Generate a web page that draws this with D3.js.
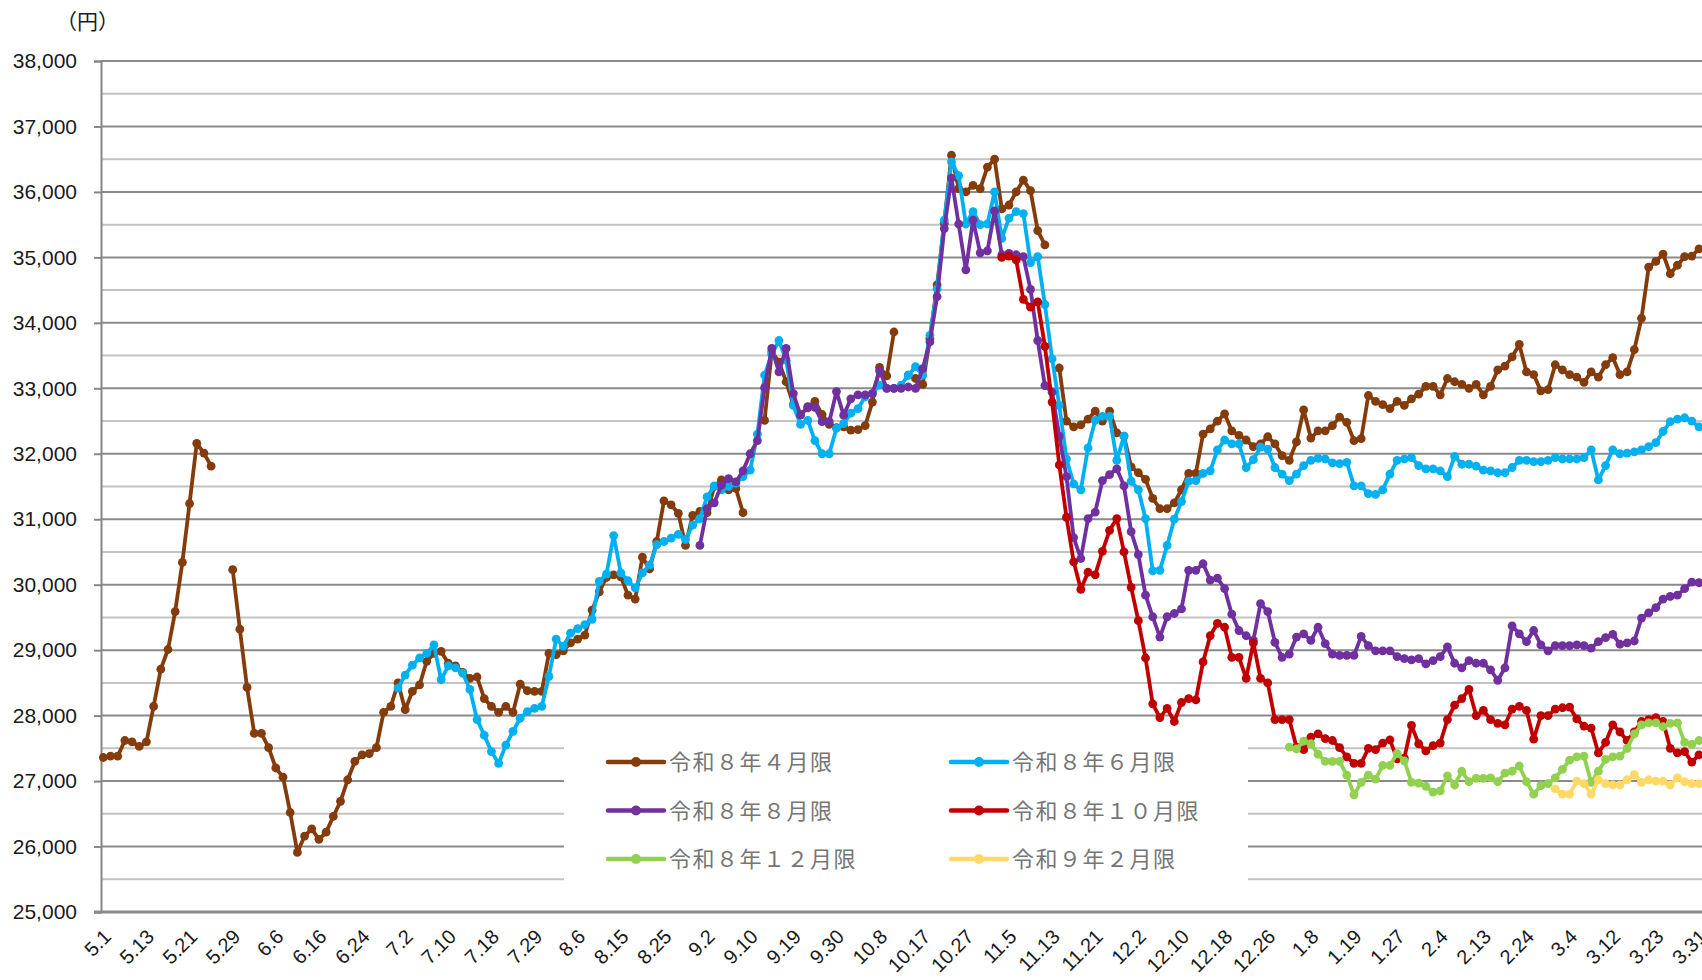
<!DOCTYPE html>
<html lang="ja">
<head>
<meta charset="utf-8">
<title>限月別 価格推移</title>
<script src="https://cdn.jsdelivr.net/npm/d3@7/dist/d3.min.js"></script>
<style>
  body { margin: 0; background: #ffffff; }
  svg text { font-family: "Liberation Sans", Arial, sans-serif; }
  .legend text { font-family: "Noto Sans CJK JP", sans-serif; }
</style>
</head>
<body>
<script>
// x categories: trading days, labels every 6th day
const xLabels = ["5.1","5.13","5.21","5.29","6.6","6.16","6.24","7.2","7.10","7.18","7.29","8.6",
  "8.15","8.25","9.2","9.10","9.19","9.30","10.8","10.17","10.27","11.5","11.13","11.21","12.2",
  "12.10","12.18","12.26","1.8","1.19","1.27","2.4","2.13","2.24","3.4","3.12","3.23","3.31"];
const labelStep = 6;
const dayCount = 223;

const yMajorTicks = [25000,26000,27000,28000,29000,30000,31000,32000,33000,34000,35000,36000,37000,38000];
const yMinorTicks = [25500,26500,27500,28500,29500,30500,31500,32500,33500,34500,35500,36500,37500];

// 令和８年４月限 (index 0 .. 222, null = no trade)
const apr8 = [27360,27380,27380,27620,27600,27530,27600,28140,28710,29010,29590,30340,31240,32160,32010,31810,
  null,null,
  30230,29320,28430,27730,27730,27510,27200,27060,26520,25910,26160,26270,26110,26220,26460,26690,27020,27300,27400,27420,27510,28050,28140,
  28500,28090,28370,28470,28830,28950,28980,28800,28760,28660,28570,28590,28260,28140,28050,28140,28050,28480,28380,28370,
  28370,28950,28930,28990,29110,29170,29230,29610,29890,30110,30150,30120,29840,29780,30420,30240,30660,31280,31220,31090,
  30600,31060,31120,31100,31500,31600,31450,31470,31100,
  null,null,
  32510,33560,33400,33100,32750,32600,32700,32800,32600,32450,32400,32410,32360,32370,32430,32790,33320,33190,33860,
  null,
  33200,33150,33060,33760,34580,35520,36560,36050,36000,36100,36050,36380,36500,35740,35800,36000,36180,36020,35410,35190,
  null,
  33310,32500,32410,32440,32530,32650,32500,32650,32320,32270,31800,31710,31610,31320,31160,31160,31250,31450,31700,31700,
  32300,32380,32500,32610,32350,32280,32210,32110,32150,32260,32150,31970,31900,32180,32670,32240,32350,32350,32430,32560,
  32480,32200,32230,32890,32800,32750,32690,32800,32740,32840,32910,33030,33030,32900,33150,33100,33060,33000,33060,32900,
  33030,33280,33340,33480,33670,33250,33210,32960,32980,33360,33280,33210,33170,33090,33250,33170,33360,33470,33210,33250,
  33590,34070,34850,34940,35050,34750,34880,35010,35020,35130];

// 令和８年６月限 (from index 41)
const jun8Start = 41;
const jun8 = [28420,28620,28770,28880,28950,29080,28550,28760,28730,28650,28400,27940,27700,27450,27270,27550,27760,27960,28060,28110,
  28140,28600,29170,29060,29260,29330,29390,29470,30050,30160,30750,30180,30060,29950,30180,30300,30610,30660,30710,30770,
  30690,30910,31010,31340,31510,31450,31500,31550,31650,31750,
  32300,33200,33520,33730,33430,32740,32450,32510,32200,32000,32000,32390,32460,32620,32690,32870,32920,33050,33000,33000,
  33050,33200,33330,33200,33810,34520,35570,36460,36250,35510,35700,35500,35510,36000,35290,35600,35700,35670,34920,35010,
  34280,33450,32740,31920,31540,31450,32090,32510,32570,32570,31900,32270,31580,31450,31010,30210,30220,30600,31000,31270,
  31580,31590,31700,31740,32060,32210,32150,32150,31790,31910,32100,32070,31790,31690,31590,31690,31820,31900,31930,31920,
  31860,31850,31870,31510,31510,31390,31380,31450,31690,31900,31920,31940,31820,31770,31770,31740,
  31650,31960,31840,31840,31810,31750,31740,31710,31710,31790,31900,31900,31880,31880,31900,31940,31920,31920,31920,31940,
  32060,31600,31820,32060,32000,32010,32030,32060,32110,32170,32340,32490,32530,32550,32500,32410];

// 令和８年８月限 (from index 83)
const aug8Start = 83;
const aug8 = [30600,31160,31250,31520,31620,31570,31740,32000,32200,33010,33610,33250,33610,32920,32590,32720,32710,32490,32490,32950,
  32590,32840,32900,32900,32920,33270,33000,33000,33000,33020,33000,33300,33710,34400,35440,36210,35510,34810,35570,35070,
  35100,35710,35040,35060,35040,35010,34510,33730,33040,32940,32270,31650,30720,30400,31010,31110,31590,31680,31770,31510,
  30810,30460,29840,29510,29200,29510,29560,29630,
  30220,30220,30320,30070,30100,29940,29550,29300,29220,29150,29710,29590,29120,28890,28940,29200,29250,29150,29350,29100,
  28940,28920,28920,28920,29210,29070,28990,28990,28990,28900,28870,28850,28870,28790,28840,28900,
  29050,28800,28730,28840,28800,28800,28700,28540,28730,29370,29250,29130,29300,29080,28990,29070,29070,29070,29080,29070,
  29030,29130,29190,29240,29090,29110,29140,29490,29570,29650,29780,29820,29840,29940,30040,30030];

// 令和８年１０月限 (from index 125)
const oct8Start = 125;
const oct8 = [35000,35020,34960,34360,34240,34320,33640,32790,31830,31030,30350,29930,30190,30150,30510,30830,31010,30500,29960,29450,
  28880,28180,27970,28110,27910,28200,
  28260,28240,28820,29220,29410,29350,28890,28890,28570,29110,28570,28500,27940,27940,27940,27520,27480,27670,27720,27650,
  27620,27510,27370,27270,27270,27500,27480,27580,27630,27340,27350,27850,27570,27460,27540,27580,
  27940,28160,28260,28400,28000,28080,27940,27880,27860,28100,28140,28080,27640,28000,28000,28100,28120,28130,27950,27840,
  27810,27430,27590,27860,27750,27620,27750,27910,27940,27970,27910,27500,27430,27450,27290,27400];

// 令和８年１２月限 (from index 165)
const dec8Start = 165;
const dec8 = [27520,27490,27610,27570,27410,27300,27300,27300,27090,26790,26980,27090,27030,27240,27240,27420,27310,26980,26970,26920,
  26830,26850,
  27080,26940,27150,26990,27040,27040,27050,26990,27120,27150,27230,26990,26800,26930,26960,27050,27180,27320,27370,27380,
  26980,27150,27330,27370,27380,27500,27720,27860,27890,27890,27830,27880,27890,27590,27560,27620];

// 令和９年２月限 (from index 202)
const feb9Start = 202;
const feb9 = [26880,26800,26800,27000,26960,26800,27020,26960,26940,26940,27020,27100,26980,27020,27000,27000,26940,27050,26990,26960,26960];

const seriesNames = ["令和８年４月限","令和８年６月限","令和８年８月限","令和８年１０月限","令和８年１２月限","令和９年２月限"];
const seriesColors = ["#843c0c","#00b0f0","#7030a0","#c00000","#92d050","#ffd966"];
const seriesData = [[apr8,0],[jun8,jun8Start],[aug8,aug8Start],[oct8,oct8Start],[dec8,dec8Start],[feb9,feb9Start]];

let w = 1702;
let h = 980;

let svg = d3.select("body").append("svg")
  .attr("width", w)
  .attr("height", h)
  .style("background", "#ffffff");

let xScale = d3.scaleLinear()
  .domain([0, dayCount - 1])
  .range([103.3, 1699]);

let yScale = d3.scaleLinear()
  .domain([25000, 38000])
  .range([912, 61]);

let plotLeft = 101;
let plotRight = w;

// legend box spot (gridlines are hidden behind it)
let legendBox = {x: 564, y: 722, w: 684, h: 183};

// minor gridlines
svg.append("g").selectAll("line")
  .data(yMinorTicks)
  .enter().append("line")
  .attr("x1", plotLeft).attr("x2", plotRight)
  .attr("y1", d => yScale(d)).attr("y2", d => yScale(d))
  .attr("stroke", "#c3c3c3")
  .attr("stroke-width", 2);

// major gridlines
svg.append("g").selectAll("line")
  .data(yMajorTicks.filter(d => d > 25000))
  .enter().append("line")
  .attr("x1", plotLeft).attr("x2", plotRight)
  .attr("y1", d => yScale(d)).attr("y2", d => yScale(d))
  .attr("stroke", "#8a8a8a")
  .attr("stroke-width", 2);

// y axis
let yAxis = d3.axisLeft(yScale)
  .tickValues(yMajorTicks)
  .tickFormat(d3.format(","))
  .tickSize(7)
  .tickPadding(17);

let gy = svg.append("g")
  .attr("transform", "translate(" + plotLeft + ",0)")
  .call(yAxis);
gy.select(".domain").attr("stroke", "#868686").attr("stroke-width", 2);
gy.selectAll(".tick line").attr("stroke", "#868686").attr("stroke-width", 2);
gy.selectAll(".tick text")
  .attr("fill", "#1a1a1a")
  .style("font-size", "21px");

// x axis line (category axis)
svg.append("line")
  .attr("x1", plotLeft - 7).attr("x2", plotRight)
  .attr("y1", yScale(25000)).attr("y2", yScale(25000))
  .attr("stroke", "#8a8a8a")
  .attr("stroke-width", 3);

svg.append("g").selectAll("text")
  .data(xLabels)
  .enter().append("text")
  .attr("transform", (d, i) => "translate(" + (xScale(i * labelStep) + 9) + ",938) rotate(-45)")
  .attr("text-anchor", "end")
  .attr("fill", "#1a1a1a")
  .style("font-size", "20px")
  .text(d => d);

// unit label
svg.append("text")
  .attr("x", 56).attr("y", 29)
  .attr("fill", "#1a1a1a")
  .style("font-family", "'Noto Sans CJK JP', sans-serif")
  .style("font-size", "21px")
  .text("（円）");

// legend background covers the gridlines
let legend = svg.append("g").attr("class", "legend");
legend.append("rect")
  .attr("x", legendBox.x).attr("y", legendBox.y)
  .attr("width", legendBox.w).attr("height", legendBox.h)
  .attr("fill", "#ffffff");

// series
let line = d3.line()
  .defined(d => d.v != null)
  .x(d => xScale(d.i))
  .y(d => yScale(d.v));

seriesData.forEach(function(s, k) {
  let pts = s[0].map((v, j) => ({i: s[1] + j, v: v}));
  let g = svg.append("g");
  g.append("path")
    .datum(pts)
    .attr("fill", "none")
    .attr("stroke", seriesColors[k])
    .attr("stroke-width", 3.8)
    .attr("stroke-linejoin", "round")
    .attr("d", line);
  g.selectAll("circle")
    .data(pts.filter(d => d.v != null))
    .enter().append("circle")
    .attr("cx", d => xScale(d.i))
    .attr("cy", d => yScale(d.v))
    .attr("r", 4.4)
    .attr("fill", seriesColors[k]);
});

// legend entries, two columns
let legendItems = legend.selectAll(".item")
  .data(seriesNames)
  .enter().append("g")
  .attr("class", "item")
  .attr("transform", (d, i) => "translate(" + (608 + (i % 2) * 343) + "," + (762 + Math.floor(i / 2) * 48.5) + ")");

legendItems.append("line")
  .attr("x1", 0).attr("x2", 56)
  .attr("stroke", (d, i) => seriesColors[i])
  .attr("stroke-width", 4.5)
  .attr("stroke-linecap", "round");

legendItems.append("circle")
  .attr("cx", 28).attr("r", 5)
  .attr("fill", (d, i) => seriesColors[i]);

legendItems.append("text")
  .attr("x", 61).attr("y", 8)
  .attr("fill", "#767676")
  .style("font-size", "22px")
  .style("letter-spacing", "1.5px")
  .text(d => d);
</script>
</body>
</html>
